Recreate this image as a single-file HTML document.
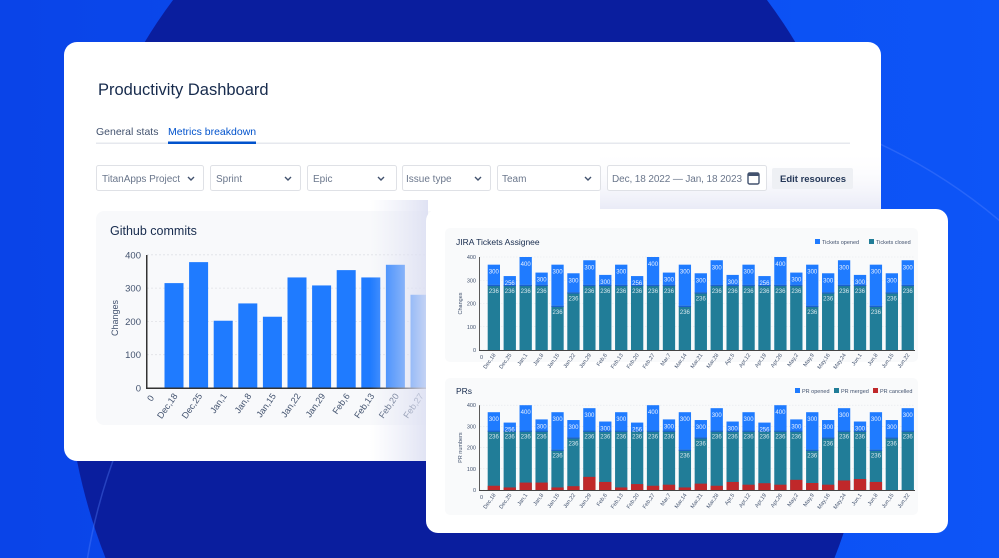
<!DOCTYPE html>
<html><head><meta charset="utf-8"><style>
html,body{margin:0;padding:0;width:999px;height:558px;overflow:hidden;background:#0b4cf2;}
svg{display:block;font-family:"Liberation Sans",sans-serif;}
</style></head><body>
<svg id="s" width="999" height="558" viewBox="0 0 999 558" xmlns="http://www.w3.org/2000/svg" style="position:absolute;left:0;top:0">
<defs>
<linearGradient id="bg" x1="0" y1="0" x2="1" y2="0"><stop offset="0" stop-color="#0a44e8"/><stop offset="1" stop-color="#0d55f7"/></linearGradient>
<linearGradient id="sh" x1="0" y1="0" x2="1" y2="0"><stop offset="0" stop-color="#e4e6f5" stop-opacity="0"/><stop offset="1" stop-color="#dcdff2" stop-opacity="1"/></linearGradient>
<linearGradient id="sh2" x1="0" y1="0" x2="0" y2="1"><stop offset="0" stop-color="#fff" stop-opacity="0"/><stop offset="1" stop-color="#e3e5f4" stop-opacity="1"/></linearGradient>
<clipPath id="cc"><rect x="64" y="42" width="817" height="419" rx="13"/></clipPath>
</defs>
<rect width="999" height="558" fill="url(#bg)"/>
<ellipse cx="470" cy="340" rx="405" ry="500" fill="#0a1e9e"/>
<circle cx="640" cy="650" r="560" fill="none" stroke="#5b86ff" stroke-opacity="0.35" stroke-width="1.5"/>
<rect x="64" y="42" width="817" height="419" rx="13" fill="#ffffff"/>
<g clip-path="url(#cc)">
<rect x="600" y="150" width="290" height="60" fill="url(#sh2)" opacity="0.8"/>
</g>
<text x="98" y="95" font-size="16.5" fill="#172b4d">Productivity Dashboard</text>
<text x="96" y="135" font-size="10.5" fill="#42526e">General stats</text>
<text x="168" y="135" font-size="10.5" fill="#0052cc">Metrics breakdown</text>
<rect x="96" y="142.5" width="754" height="1.5" fill="#e6e8ee"/>
<rect x="168" y="141.5" width="88" height="2.5" fill="#0052cc"/>
<g font-size="10" fill="#6b778c" stroke-width="1">
<rect x="96.5" y="165.5" width="107" height="25" rx="2" fill="#fff" stroke="#dfe1e6"/><text x="102" y="182" textLength="78">TitanApps Project</text><path d="M188 177l3 3 3-3" fill="none" stroke="#42526e" stroke-width="1.4"/>
<rect x="210.5" y="165.5" width="90" height="25" rx="2" fill="#fff" stroke="#dfe1e6"/><text x="216" y="182">Sprint</text><path d="M285 177l3 3 3-3" fill="none" stroke="#42526e" stroke-width="1.4"/>
<rect x="307.5" y="165.5" width="89" height="25" rx="2" fill="#fff" stroke="#dfe1e6"/><text x="313" y="182">Epic</text><path d="M378 177l3 3 3-3" fill="none" stroke="#42526e" stroke-width="1.4"/>
<rect x="402.5" y="165.5" width="88" height="25" rx="2" fill="#fff" stroke="#dfe1e6"/><text x="406" y="182">Issue type</text><path d="M475 177l3 3 3-3" fill="none" stroke="#42526e" stroke-width="1.4"/>
<rect x="497.5" y="165.5" width="103" height="25" rx="2" fill="#fff" stroke="#dfe1e6"/><text x="502" y="182">Team</text><path d="M585 177l3 3 3-3" fill="none" stroke="#42526e" stroke-width="1.4"/>
<rect x="607.5" y="165.5" width="159" height="25" rx="2" fill="#fff" stroke="#dfe1e6"/><text x="612" y="182" textLength="130">Dec, 18 2022 — Jan, 18 2023</text>
<rect x="748" y="173" width="11" height="11" rx="1.5" fill="none" stroke="#42526e" stroke-width="1.4"/><rect x="748" y="173" width="11" height="3" fill="#42526e"/>
<rect x="772" y="168" width="81" height="21" rx="2" fill="#eef0f4"/><text x="780" y="182" fill="#253858" font-weight="bold" font-size="9.5">Edit resources</text>
</g>
<rect x="96" y="211" width="420" height="214" rx="8" fill="#f8f9fb"/>
<text x="110" y="235" font-size="12.5" fill="#172b4d">Github commits</text>
<g id="gh"></g>
<g clip-path="url(#cc)">
<rect x="370" y="200" width="58" height="270" fill="url(#sh)" opacity="0.9"/>
</g>
<rect x="426" y="209" width="522" height="324" rx="12" fill="#ffffff"/>
<rect x="445" y="228" width="473" height="134" rx="5" fill="#f9fafb"/>
<rect x="445" y="378" width="473" height="137" rx="5" fill="#f9fafb"/>
<text x="456" y="245" font-size="8.5" fill="#172b4d">JIRA Tickets Assignee</text>
<text x="456" y="394" font-size="8.5" fill="#172b4d">PRs</text>
<g font-size="5.5" fill="#42526e">
<rect x="815" y="239" width="5" height="5" fill="#1f7bff"/><text x="822" y="244">Tickets opened</text>
<rect x="869" y="239" width="5" height="5" fill="#217d98"/><text x="876" y="244">Tickets closed</text>
<rect x="795" y="388" width="5" height="5" fill="#1f7bff"/><text x="802" y="393">PR opened</text>
<rect x="834" y="388" width="5" height="5" fill="#217d98"/><text x="841" y="393">PR merged</text>
<rect x="873" y="388" width="5" height="5" fill="#c0282a"/><text x="880" y="393">PR cancelled</text>
</g>
<g id="j1"></g><g id="j2"></g>
</svg>
<script>
var NS="http://www.w3.org/2000/svg";
function el(p,t,a,txt){var e=document.createElementNS(NS,t);for(var k in a)e.setAttribute(k,a[k]);if(txt!==undefined)e.textContent=txt;p.appendChild(e);return e;}
var g=document.getElementById('gh');
var gv=[315,378,202,254,214,332,308,354,332,370,280],gd=["Dec,18","Dec,25","Jan,1","Jan,8","Jan,15","Jan,22","Jan,29","Feb,6","Feb,13","Feb,20","Feb,27"];
for(var i=0;i<=4;i++){var y=388-i*33.3;el(g,'line',{x1:147,x2:430,y1:y,y2:y,stroke:'#dfe1e6','stroke-dasharray':'2 2','stroke-width':0.8});el(g,'text',{x:141,y:y+3.5,'font-size':9.5,fill:'#42526e','text-anchor':'end'},String(i*100));}
el(g,'text',{x:0,y:0,'font-size':9,fill:'#42526e','text-anchor':'middle',transform:'translate(118,318) rotate(-90)'},'Changes');
el(g,'text',{x:0,y:0,'font-size':9,fill:'#42526e','text-anchor':'middle',transform:'translate(153,400) rotate(-55)'},'0');
for(var i=0;i<gv.length;i++){var cx=174+i*24.6,h=gv[i]*0.333;el(g,'rect',{x:cx-9.5,y:388-h,width:19,height:h,fill:'#1f7bff'});
el(g,'text',{x:0,y:0,'font-size':9,fill:'#42526e','text-anchor':'end',transform:'translate('+(cx+4)+',396) rotate(-55)'},gd[i]);}
el(g,'rect',{x:146,y:255,width:1.5,height:134,fill:'#333'});el(g,'rect',{x:146,y:387.5,width:290,height:1.5,fill:'#333'});
var dates=["Dec,18","Dec,25","Jan,1","Jan,8","Jan,15","Jan,22","Jan,29","Feb,6","Feb,13","Feb,20","Feb,27","Mar,7","Mar,14","Mar,21","Mar,28","Apr,5","Apr,12","Apr,19","Apr,26","May,2","May,9","May,16","May,24","Jun,1","Jun,8","Jun,15","Jun,22"];
var tot=[367,318,400,333,367,330,386,323,367,318,400,333,367,330,386,323,367,318,400,333,367,330,386,323,367,330,386];
var lab=[300,256,400,300,300,300,300,300,300,256,400,300,300,300,300,300,300,256,400,300,300,300,300,300,300,300,300];
var cl=[280,280,280,280,190,248,280,280,280,280,280,280,190,248,280,280,280,280,280,280,190,248,280,280,190,248,280];
var red=[20,12,35,35,12,18,62,38,12,28,20,25,12,30,20,38,25,32,25,48,33,25,45,52,38,0,0];
function chart(id,y0,ppx,pr,yl){var g=document.getElementById(id);var s=ppx/100;
for(var i=0;i<=4;i++){var y=y0-i*ppx;el(g,'line',{x1:480,x2:914,y1:y,y2:y,stroke:'#e4e6eb','stroke-dasharray':'1.5 1.5','stroke-width':0.6});el(g,'text',{x:476,y:y+2,'font-size':5.5,fill:'#42526e','text-anchor':'end'},String(i*100));}
el(g,'text',{x:0,y:0,'font-size':5.5,fill:'#42526e','text-anchor':'middle',transform:'translate(462,'+(y0-2*ppx)+') rotate(-90)'},yl);
el(g,'text',{x:480,y:y0+9,'font-size':5.5,fill:'#42526e'},'0');
for(var i=0;i<27;i++){var x=487.7+i*15.92,w=12.3,ht=tot[i]*s,hc=cl[i]*s;
el(g,'rect',{x:x,y:y0-ht,width:w,height:ht-hc,fill:'#1f7bff'});
el(g,'rect',{x:x,y:y0-hc,width:w,height:hc,fill:'#217d98'});
el(g,'rect',{x:x,y:y0-hc,width:w,height:1.2,fill:'#1a5fd0'});
if(pr&&red[i]){var hr=red[i]*s;el(g,'rect',{x:x,y:y0-hr,width:w,height:hr,fill:'#c0282a'});}
el(g,'text',{x:x+w/2,y:y0-ht+9,'font-size':6,fill:'#e8f0ff','text-anchor':'middle'},String(lab[i]));
el(g,'text',{x:x+w/2,y:y0-hc+8,'font-size':6,fill:'#d8e8ee','text-anchor':'middle'},'236');
el(g,'text',{x:0,y:0,'font-size':5.5,fill:'#42526e','text-anchor':'end',transform:'translate('+(x+w/2+2)+','+(y0+5)+') rotate(-55)'},dates[i]);}
el(g,'rect',{x:479,y:y0-4*ppx,width:0.8,height:4*ppx,fill:'#333'});el(g,'rect',{x:479,y:y0,width:436,height:1,fill:'#444'});}
chart('j1',350,23.25,false,'Changes');
chart('j2',490,21.2,true,'PR numbers');
</script>
</body></html>
